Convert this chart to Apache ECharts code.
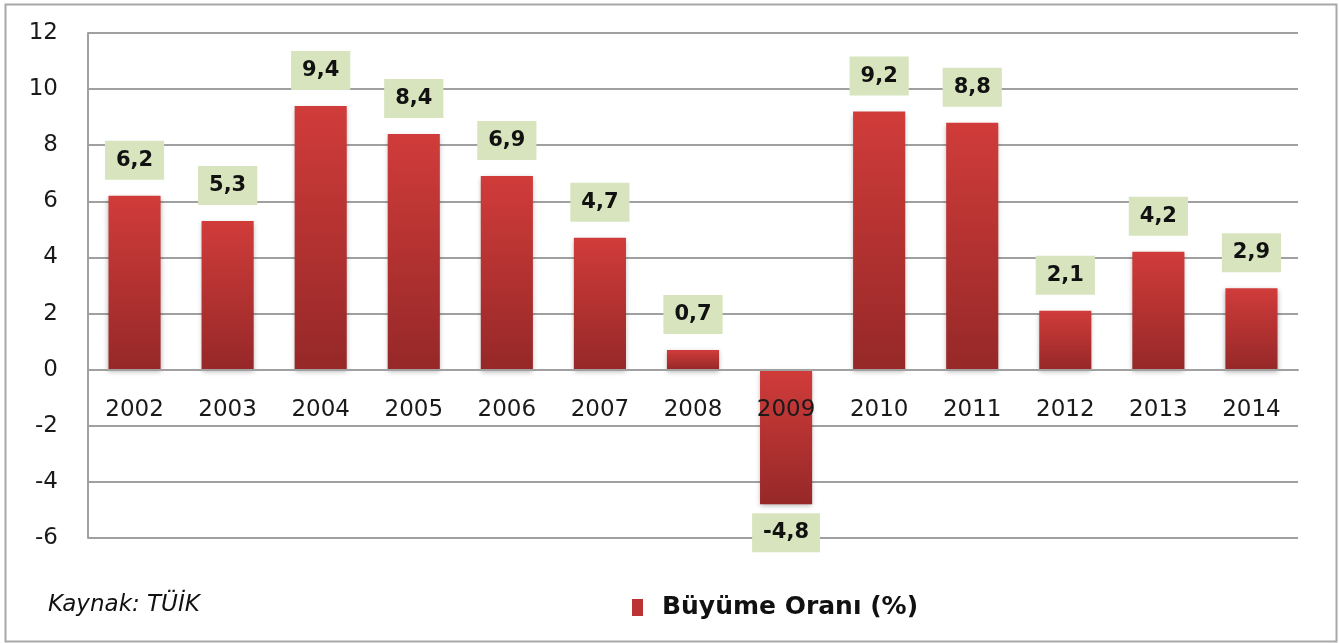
<!DOCTYPE html>
<html>
<head>
<meta charset="utf-8">
<script src="https://cdn.jsdelivr.net/npm/echarts@6/dist/echarts.min.js"></script>
<style>
  html, body { margin: 0; padding: 0; background: #fff; }
  #chart { width: 1339px; height: 643px; }
</style>
</head>
<body>
<div id="chart"></div>
<script>
// veriler
const years = ["2002", "2003", "2004", "2005", "2006", "2007", "2008", "2009", "2010", "2011", "2012", "2013", "2014"];
const growth = [6.2, 5.3, 9.4, 8.4, 6.9, 4.7, 0.7, -4.8, 9.2, 8.8, 2.1, 4.2, 2.9];
const seriesName = "Büyüme Oranı (%)";
const sourceText = "Kaynak: TÜİK";

const chart = echarts.init(document.getElementById("chart"));

// çubuk rengi (yukarıdan aşağı koyulaşan kırmızı)
const barColor = new echarts.graphic.LinearGradient(0, 0, 0, 1, [
  { offset: 0, color: "#d03c3a" },
  { offset: 1, color: "#962828" }
]);

// negatif değerlerde etiket çubuğun altında
const barData = growth.map(v => ({
  value: v,
  label: { position: v < 0 ? "bottom" : "top", distance: v < 0 ? 9 : 16 }
}));

const option = {
  animation: false,
  grid: { left: 88, right: 41, top: 33, bottom: 105 },
  xAxis: {
    type: "category",
    data: years,
    // eksen sıfır çizgisinde (alt kenardan 168 px yukarıda)
    offset: -168,
    z: 5,
    axisLine: { onZero: false, lineStyle: { color: "#a0a0a0", width: 2 } },
    axisTick: { show: false },
    axisLabel: {
      margin: 29,
      color: "#1a1a1a",
      fontFamily: "DejaVu Sans",
      fontSize: 23
    }
  },
  yAxis: {
    type: "value",
    min: -6,
    max: 12,
    interval: 2,
    axisLine: { show: true, lineStyle: { color: "#a0a0a0", width: 2 } },
    axisTick: { show: false },
    splitLine: { lineStyle: { color: "#a0a0a0", width: 2 } },
    axisLabel: {
      margin: 30,
      color: "#1a1a1a",
      fontFamily: "DejaVu Sans",
      fontSize: 23
    }
  },
  legend: {
    left: 627,
    top: 590,
    icon: "rect",
    itemWidth: 11,
    itemHeight: 17,
    itemStyle: { color: "#bb3333" },
    textStyle: {
      fontFamily: "DejaVu Sans",
      fontWeight: "bold",
      fontSize: 25,
      color: "#111",
      padding: [0, 0, 0, 14]
    },
    data: [seriesName]
  },
  graphic: [
    {
      type: "rect",
      left: 3,
      top: 2,
      shape: { width: 1331, height: 637 },
      style: { fill: "none", stroke: "#a8a8a8", lineWidth: 2 },
      z: -1
    },
    {
      type: "text",
      left: 48,
      top: 594,
      style: {
        text: sourceText,
        fill: "#111",
        fontFamily: "DejaVu Sans",
        fontStyle: "italic",
        fontSize: 23
      }
    }
  ],
  series: [
    {
      name: seriesName,
      type: "bar",
      data: barData,
      barWidth: "56%",
      itemStyle: {
        color: barColor,
        shadowColor: "rgba(0,0,0,0.3)",
        shadowBlur: 5,
        shadowOffsetY: 2
      },
      label: {
        show: true,
        formatter: p => String(p.value).replace(".", ","),
        fontFamily: "DejaVu Sans",
        fontWeight: "bold",
        fontSize: 21,
        color: "#111",
        backgroundColor: "#d7e4bd",
        padding: [9, 11, 9, 11]
      }
    }
  ]
};

chart.setOption(option);
</script>
</body>
</html>
